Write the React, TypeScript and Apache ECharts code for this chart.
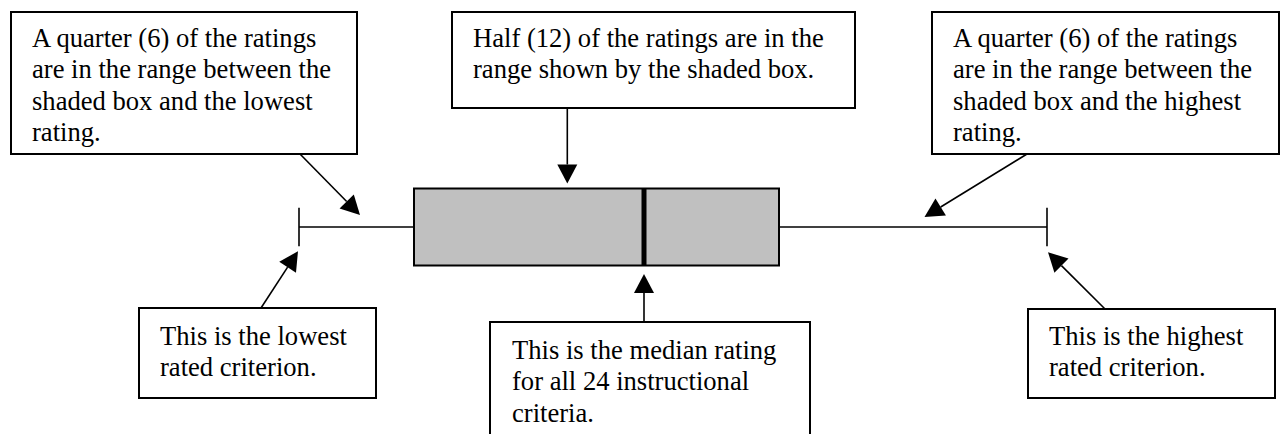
import React, { useEffect, useRef } from "react";
import * as echarts from "echarts";

// ---- data (illustrative box plot of 24 instructional-criteria ratings) ----
const categories = ["Instructional criteria"];
const minRating = [10.0];
const q1Rating = [21.5];
const medianRating = [44.5];
const q3Rating = [58.0];
const maxRating = [84.8];

// ---- callout texts ----
const lowQuarterText = ["A quarter (6) of the ratings", "are in the range between the", "shaded box and the lowest", "rating."];
const halfText = ["Half (12) of the ratings are in the", "range shown by the shaded box."];
const highQuarterText = ["A quarter (6) of the ratings", "are in the range between the", "shaded box and the highest", "rating."];
const lowestText = ["This is the lowest", "rated criterion."];
const medianText = ["This is the median rating", "for all 24 instructional", "criteria."];
const highestText = ["This is the highest", "rated criterion."];

const W = 1281;
const H = 434;
const GRID = { left: 199, right: 82, top: 150, height: 154 };
const BOX_FRACTION = 0.5;
const FONT = '"Liberation Serif", "Times New Roman", serif';
const FONT_SIZE = 26.6;
const LINE_H = 31.5;

type Pt = [number, number];

function arrow(from: Pt, tip: Pt): any[] {
  const dx = tip[0] - from[0];
  const dy = tip[1] - from[1];
  const len = Math.sqrt(dx * dx + dy * dy);
  const ux = dx / len;
  const uy = dy / len;
  const headL = 19;
  const headW = 10;
  const bx = tip[0] - ux * headL;
  const by = tip[1] - uy * headL;
  const px = -uy;
  const py = ux;
  return [
    {
      type: "line",
      shape: { x1: from[0], y1: from[1], x2: bx, y2: by },
      style: { stroke: "#000", lineWidth: 1.6 },
      silent: true,
    },
    {
      type: "polygon",
      shape: {
        points: [
          [tip[0], tip[1]],
          [bx + px * headW, by + py * headW],
          [bx - px * headW, by - py * headW],
        ],
      },
      style: { fill: "#000" },
      silent: true,
    },
  ];
}

function callout(lines: string[], x: number, y: number, w: number, h: number, tx: number, baseline0: number): any[] {
  return [
    {
      type: "rect",
      shape: { x, y, width: w, height: h },
      style: { fill: "#fff", stroke: "#000", lineWidth: 2 },
      silent: true,
    },
    {
      type: "text",
      x: tx,
      y: baseline0 - 24.8,
      style: {
        text: lines.join("\n"),
        fill: "#000",
        fontFamily: FONT,
        fontSize: FONT_SIZE,
        lineHeight: LINE_H,
        align: "left",
        verticalAlign: "top",
      },
      silent: true,
    },
  ];
}

export default function App() {
  const ref = useRef<HTMLDivElement>(null);

  useEffect(() => {
    if (!ref.current) return;
    const chart = echarts.init(ref.current, null, { renderer: "svg", width: W, height: H });

    const seriesData = categories.map((_, i) => [i, minRating[i], q1Rating[i], medianRating[i], q3Rating[i], maxRating[i]]);

    chart.setOption({
      animation: false,
      backgroundColor: "#fff",
      grid: { left: GRID.left, right: GRID.right, top: GRID.top, height: GRID.height },
      xAxis: { type: "value", min: 0, max: 100, show: false },
      yAxis: { type: "category", data: categories, show: false },
      series: [
        {
          type: "custom",
          encode: { x: [1, 2, 3, 4, 5], y: 0 },
          data: seriesData,
          renderItem: (params: any, api: any) => {
            const cat = api.value(0);
            const pMin = api.coord([api.value(1), cat]);
            const pQ1 = api.coord([api.value(2), cat]);
            const pMed = api.coord([api.value(3), cat]);
            const pQ3 = api.coord([api.value(4), cat]);
            const pMax = api.coord([api.value(5), cat]);
            const band = api.size([0, 1])[1];
            const boxH = band * BOX_FRACTION;
            const yc = pMed[1];
            const capH = boxH / 4;
            const lineStyle = { stroke: "#000", lineWidth: 1.6 };
            return {
              type: "group",
              children: [
                { type: "line", shape: { x1: pMin[0], y1: yc, x2: pQ1[0], y2: yc }, style: lineStyle },
                { type: "line", shape: { x1: pQ3[0], y1: yc, x2: pMax[0], y2: yc }, style: lineStyle },
                { type: "line", shape: { x1: pMin[0], y1: yc - capH, x2: pMin[0], y2: yc + capH }, style: lineStyle },
                { type: "line", shape: { x1: pMax[0], y1: yc - capH, x2: pMax[0], y2: yc + capH }, style: lineStyle },
                {
                  type: "rect",
                  shape: { x: pQ1[0], y: yc - boxH / 2, width: pQ3[0] - pQ1[0], height: boxH },
                  style: { fill: "#c0c0c0", stroke: "#000", lineWidth: 2 },
                },
                {
                  type: "line",
                  shape: { x1: pMed[0], y1: yc - boxH / 2, x2: pMed[0], y2: yc + boxH / 2 },
                  style: { stroke: "#000", lineWidth: 5 },
                },
              ],
            };
          },
        },
      ],
    });

    const px = (v: number): Pt => chart.convertToPixel({ gridIndex: 0 }, [v, 0]) as Pt;
    const pMin = px(minRating[0]);
    const pQ1 = px(q1Rating[0]);
    const pMed = px(medianRating[0]);
    const pQ3 = px(q3Rating[0]);
    const pMax = px(maxRating[0]);
    const yc = pMed[1];
    const band = GRID.height / categories.length;
    const boxH = band * BOX_FRACTION;
    const boxTop = yc - boxH / 2;
    const boxBottom = yc + boxH / 2;
    const capBottom = yc + boxH / 4;

    const elements: any[] = [
      ...callout(lowQuarterText, 11, 12, 346, 142, 32, 47),
      ...callout(halfText, 452, 12, 403, 96, 473, 47),
      ...callout(highQuarterText, 932, 12, 347, 142, 953, 47),
      ...callout(lowestText, 139, 308, 237, 90, 160, 345),
      ...callout(medianText, 490, 322, 320, 130, 512, 359),
      ...callout(highestText, 1028, 309, 247, 89, 1049, 345),
      ...arrow([300, 154], [(pMin[0] + pQ1[0]) / 2 + 3.5, yc - 12]),
      ...arrow([pQ1[0] + (pQ3[0] - pQ1[0]) * 0.42, 108], [pQ1[0] + (pQ3[0] - pQ1[0]) * 0.42, boxTop - 5]),
      ...arrow([1027, 154], [(pQ3[0] + pMax[0]) / 2 + 11.5, yc - 10]),
      ...arrow([261, 308], [pMin[0] - 1, capBottom + 5]),
      ...arrow([pMed[0], 322], [pMed[0], boxBottom + 8.5]),
      ...arrow([1105, 309], [pMax[0] + 1, capBottom + 6]),
    ];

    chart.setOption({ graphic: { elements } });

    return () => {
      chart.dispose();
    };
  }, []);

  return (
    <div
      ref={ref}
      style={{ position: "absolute", left: 0, top: 0, width: W, height: H, background: "#fff" }}
    />
  );
}
